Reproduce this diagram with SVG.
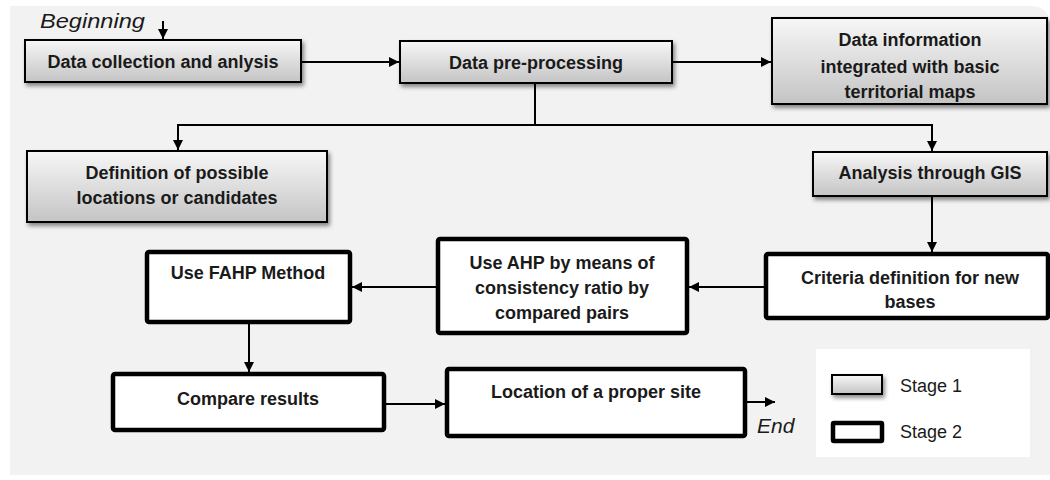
<svg xmlns="http://www.w3.org/2000/svg" width="1050" height="480" viewBox="0 0 1050 480">
  <defs>
    <linearGradient id="g1" x1="0" y1="0" x2="0" y2="1">
      <stop offset="0" stop-color="#f7f7f7"/>
      <stop offset="1" stop-color="#c4c4c4"/>
    </linearGradient>
    <filter id="sh" x="-10%" y="-20%" width="130%" height="160%">
      <feDropShadow dx="2" dy="3" stdDeviation="2" flood-color="#000" flood-opacity="0.45"/>
    </filter>
    <marker id="ah" viewBox="0 0 10 10" refX="10" refY="5" markerWidth="10" markerHeight="10" markerUnits="userSpaceOnUse" orient="auto">
      <path d="M0,0 L10,5 L0,10 z" fill="#000"/>
    </marker>
    <style>
      .s1 { fill: url(#g1); stroke: #000; stroke-width: 2; filter: url(#sh); }
      .s2 { fill: #fff; stroke: #000; stroke-width: 4.5; }
      .t { font-family: "Liberation Sans", Arial, sans-serif; font-weight: bold; font-size: 18px; fill: #1a1a1a; text-anchor: middle; }
      .it { font-family: "Liberation Sans", Arial, sans-serif; font-style: italic; font-size: 21px; fill: #1a1a1a; }
      .lg { font-family: "Liberation Sans", Arial, sans-serif; font-size: 18px; fill: #1a1a1a; }
      .c { fill: none; stroke: #000; stroke-width: 2; }
      .ca { fill: none; stroke: #000; stroke-width: 2; marker-end: url(#ah); }
    </style>
  </defs>

  <rect x="0" y="0" width="1050" height="480" fill="#fff"/>
  <path d="M10,6 H1030 Q1050,6 1050,26 V475 H10 Z" fill="#f2f2f2"/>

  <g id="n1">
    <rect class="s1" x="25" y="40" width="276" height="42"/>
    <text class="t" x="163" y="68">Data collection and anlysis</text>
  </g>
  <g id="n2">
    <rect class="s1" x="400" y="41" width="272" height="42"/>
    <text class="t" x="536" y="69">Data pre-processing</text>
  </g>
  <g id="n3">
    <rect class="s1" x="772" y="18" width="275" height="86"/>
    <text class="t" x="910" y="46">Data information</text>
    <text class="t" x="910" y="73">integrated with basic</text>
    <text class="t" x="910" y="98">territorial maps</text>
  </g>
  <g id="n4">
    <rect class="s1" x="27" y="151" width="300" height="71"/>
    <text class="t" x="177" y="179">Definition of possible</text>
    <text class="t" x="177" y="204">locations or candidates</text>
  </g>
  <g id="n5">
    <rect class="s1" x="813" y="152" width="234" height="44"/>
    <text class="t" x="930" y="179">Analysis through GIS</text>
  </g>
  <g id="n6">
    <rect class="s2" x="766" y="254" width="282" height="64" rx="2"/>
    <text class="t" x="910" y="284">Criteria definition for new</text>
    <text class="t" x="910" y="308">bases</text>
  </g>
  <g id="n7">
    <rect class="s2" x="438" y="239" width="249" height="94" rx="2"/>
    <text class="t" x="562" y="269">Use AHP by means of</text>
    <text class="t" x="562" y="294">consistency ratio by</text>
    <text class="t" x="562" y="319">compared pairs</text>
  </g>
  <g id="n8">
    <rect class="s2" x="147" y="252" width="203" height="70" rx="2"/>
    <text class="t" x="248" y="279">Use FAHP Method</text>
  </g>
  <g id="n9">
    <rect class="s2" x="113" y="374" width="271" height="56" rx="2"/>
    <text class="t" x="248" y="405">Compare results</text>
  </g>
  <g id="n10">
    <rect class="s2" x="447" y="369" width="298" height="67" rx="2"/>
    <text class="t" x="596" y="398">Location of a proper site</text>
  </g>

  <g id="labels">
    <text class="it" x="40" y="28" textLength="105" lengthAdjust="spacingAndGlyphs">Beginning</text>
    <text class="it" x="757" y="433">End</text>
  </g>

  <g id="connectors">
    <line class="ca" x1="163" y1="21" x2="163" y2="39"/>
    <line class="ca" x1="301" y1="62" x2="399" y2="62"/>
    <line class="ca" x1="672" y1="62" x2="771" y2="62"/>
    <polyline class="c" points="535,83 535,125"/>
    <polyline class="ca" points="535,125 178,125 178,150"/>
    <polyline class="ca" points="535,125 932,125 932,151"/>
    <line class="ca" x1="932" y1="196" x2="932" y2="252"/>
    <line class="ca" x1="766" y1="287" x2="689" y2="287"/>
    <line class="ca" x1="438" y1="287" x2="352" y2="287"/>
    <line class="ca" x1="249" y1="322" x2="249" y2="372"/>
    <line class="ca" x1="384" y1="404" x2="445" y2="404"/>
    <line class="ca" x1="745" y1="402" x2="775" y2="402"/>
  </g>

  <g id="legend">
    <rect x="816" y="349" width="214" height="108" fill="#fff"/>
    <rect class="s1" x="832" y="375" width="50" height="19"/>
    <text class="lg" x="900" y="392">Stage 1</text>
    <rect class="s2" x="833" y="423" width="49" height="18" rx="1"/>
    <text class="lg" x="900" y="438">Stage 2</text>
  </g>
</svg>
